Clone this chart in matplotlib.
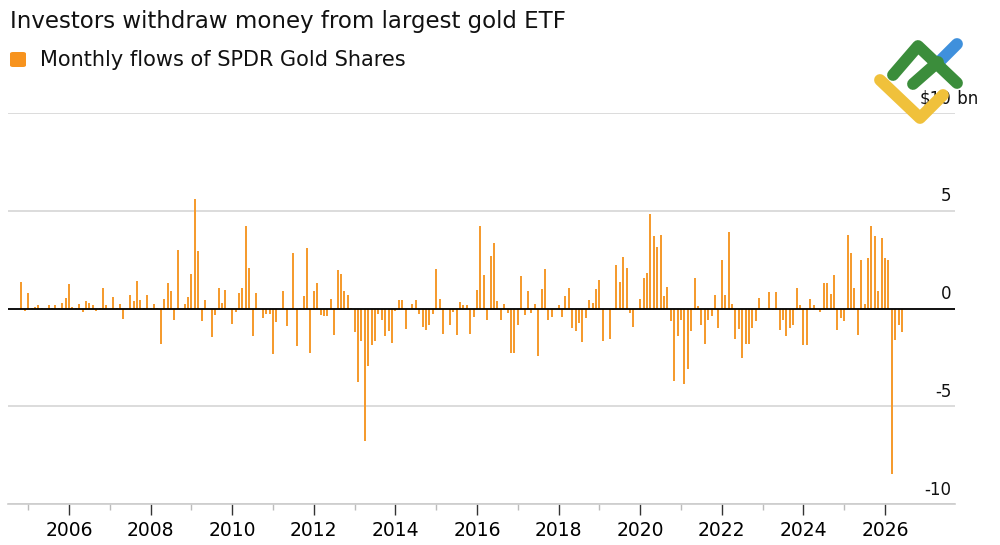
import matplotlib.pyplot as plt
import pandas as pd
from matplotlib.patches import FancyBboxPatch

plt.rcParams['font.family'] = ['DejaVu Sans']

# Monthly flows of SPDR Gold Shares, $bn, starting Nov 2004
flows = [
    1.36, -0.1, 0.8, 0.02, 0.1, 0.2, 0.05, 0.0, 0.17, 0.05, 0.2, 0.05, 0.3, 0.55, 1.24, 0.1,
    0.05, 0.22, -0.15, 0.4, 0.3, 0.2, -0.1, 0.05, 1.07, 0.2, 0.0, 0.6, 0.02, 0.22, -0.55,
    0.0, 0.68, 0.4, 1.4, 0.46, 0.05, 0.68, 0.05, 0.22, 0.05,
    -1.79, 0.48, 1.33, 0.89, -0.6, 3.0, 0.0, 0.22, 0.61, 1.75,
    5.59, 2.93, -0.63, 0.43, 0.0, -1.45, -0.34, 1.07, 0.29, 0.97,
    0.05, -0.77, -0.15, 0.82,
    1.07, 4.22, 2.08, -1.41, 0.8, 0.05, -0.46, -0.26, -0.26, -2.3,
    -0.68, 0.0, 0.89, -0.9, 0.0, 2.85, -1.93, 0.05, 0.63, 3.12,
    -2.25, 0.92, 1.29, -0.34, -0.39, -0.39, 0.49, -1.36, 2.0, 1.79,
    0.9, 0.72, 0.05, -1.19,
    -3.75, -1.67, -6.78, -2.95, -1.84, -1.67, -0.26, -0.6, -1.4, -1.16,
    -1.75, -0.1, 0.43, 0.43, -1.06, 0.0, 0.22, 0.46, -0.26, -0.94,
    -1.11, -0.85, -0.29, 2.04, 0.51, -1.28, 0.0, -0.85, -0.17, -1.36,
    0.34, 0.17, 0.17, -1.3,
    -0.43, 0.97, 4.2, 1.7, -0.6, 2.67, 3.37, 0.37, -0.6, 0.22,
    -0.22, -2.27, -2.27, -0.85, 1.67, -0.34, 0.89, -0.22, 0.22, -2.42,
    1.02, 2.04, -0.56, -0.43, 0.0, 0.17, -0.43, 0.63, 1.07, -0.99,
    -1.14, -0.73, -1.7,
    -0.48, 0.46, 0.31, 1.02, 1.48, -1.67, 0.0, -1.57, -0.05,
    2.21, 1.36, 2.64, 2.1, -0.22, -0.94, 0.0, 0.51, 1.58, 1.84,
    4.86, 3.7, 3.15, 3.75, 0.63, 1.11, -0.65, -3.71, -1.41, -0.6,
    -3.83, -3.07, -1.14, 1.57, 0.14,
    -0.82, -1.79, -0.6, -0.39, 0.68, -0.99, 2.5, 0.72, 3.92, 0.22,
    -1.57, -1.06, -2.5, -1.82, -1.82, -0.99, -0.65, 0.56, 0.0, 0.0,
    0.85, -0.05, 0.85, -1.07, -0.56, -1.4, -0.99, -0.82, 1.07, 0.17,
    -1.84, -1.84, 0.51, 0.17,
    0.0, -0.17, 1.31, 1.33, 0.77, 1.74, -1.11, -0.48, -0.65, 3.75,
    2.85, 1.06, -1.36, 2.47, 0.26, 2.59, 4.21, 3.7, 0.89, 3.61,
    2.59, 2.5, -8.43, -1.62, -0.82, -1.19,
]
months = pd.date_range('2004-11-01', periods=len(flows), freq='MS')
xpos = months.year + (months.month - 1) / 12

major_years = list(range(2006, 2027, 2))
minor_years = list(range(2005, 2026, 2))
y_levels = [10, 5, 0, -5, -10]
y_labels = ['\\$10', '5', '0', '-5', '-10']

orange = '#f59b2f'
grid_gray = '#d6d6d6'

fig = plt.figure(figsize=(10, 5.45), dpi=100)
ax = fig.add_axes([0.008, 0.0747, 0.947, 0.718])

ax.bar(xpos, flows, width=0.05, color=orange, zorder=3)
ax.axhline(0, color='black', lw=1.3, zorder=4)

ax.set_xlim(2004.505, 2027.716)
ax.set_ylim(-10, 10)

ax.set_yticks(y_levels)
ax.yaxis.grid(True, color=grid_gray, lw=1.2)
ax.tick_params(axis='y', length=0, labelleft=False)

ax.set_xticks(major_years)
ax.set_xticklabels([str(y) for y in major_years], fontsize=13.5)
ax.set_xticks(minor_years, minor=True)
ax.tick_params(axis='x', which='major', length=7.7, width=1, color='#333333', pad=4.5)
ax.tick_params(axis='x', which='minor', length=4.1, width=1, color='#bbbbbb')

for s in ['top', 'left', 'right']:
    ax.spines[s].set_visible(False)
ax.spines['bottom'].set_color('#cccccc')
ax.spines['bottom'].set_linewidth(1.2)

for v, lab in zip(y_levels, y_labels):
    ax.annotate(lab, xy=(0.9965, v), xycoords=('axes fraction', 'data'),
                xytext=(0, 6.8), textcoords='offset points',
                ha='right', va='baseline', fontsize=12, color='#111111')
ax.annotate(' bn', xy=(0.9965, 10), xycoords=('axes fraction', 'data'),
            xytext=(0, 6.8), textcoords='offset points',
            ha='left', va='baseline', fontsize=12, color='#111111')

# title and legend
fig.text(0.010, 1 - 28 / 545, 'Investors withdraw money from largest gold ETF',
         fontsize=16.5, color='#111111', va='baseline', ha='left')
fig.patches.append(FancyBboxPatch((0.010, 1 - 67 / 545), 0.016, 15 / 545,
                                  boxstyle='round,pad=0,rounding_size=0.003',
                                  transform=fig.transFigure, figure=fig,
                                  color='#f7931e', lw=0))
fig.text(0.040, 1 - 66 / 545, 'Monthly flows of SPDR Gold Shares',
         fontsize=15, color='#111111', va='baseline', ha='left')

# watermark logo overlay (pixel coords)
ov = fig.add_axes([0, 0, 1, 1], zorder=10)
ov.set_xlim(0, 1000)
ov.set_ylim(545, 0)
ov.axis('off')
kw = dict(lw=8.5, solid_capstyle='round', solid_joinstyle='round')
ov.plot([880, 920, 943], [80, 118, 95], color='#f0c13b', **kw)
ov.plot([940, 957], [61, 44], color='#3f90dc', **kw)
ov.plot([893, 918, 957], [75, 46, 83], color='#3b8d3b', **kw)
ov.plot([913, 938], [84, 62], color='#3b8d3b', **kw)

fig.savefig('out.png', dpi=100)
